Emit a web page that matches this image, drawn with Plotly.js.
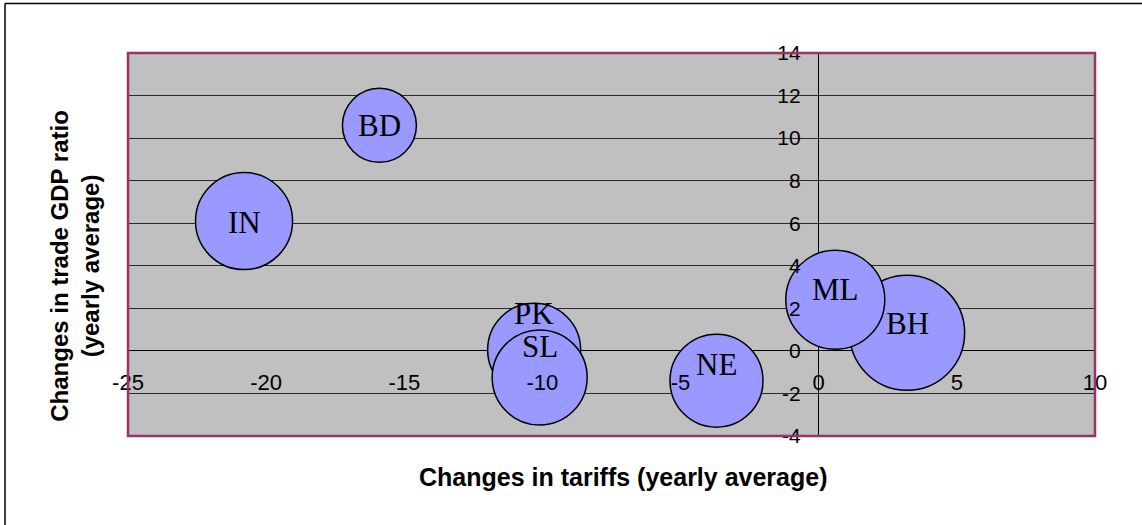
<!DOCTYPE html>
<html>
<head>
<meta charset="utf-8">
<script src="https://cdn.plot.ly/plotly-3.0.1.min.js"></script>
<style>
  html, body { margin: 0; padding: 0; background: #fff; overflow: hidden; }
  #chart { width: 1142px; height: 525px; }
</style>
</head>
<body>
<div id="chart"></div>
<script>
// ---- data ----
const countries      = ['IN', 'BD', 'PK', 'SL', 'NE', 'BH', 'ML'];
const tariffChange   = [-20.8, -15.9, -10.3, -10.1, -3.7, 3.2, 0.6];
const tradeGdpChange = [6.1, 10.6, 0.05, -1.25, -1.4, 0.85, 2.4];
const bubbleSize     = [97, 74, 93, 95, 93, 115, 99];

const xTickVals = [-25, -20, -15, -10, -5, 0, 5, 10];
const yTickVals = [-4, -2, 0, 2, 4, 6, 8, 10, 12, 14];

const xTitle = 'Changes in tariffs (yearly average)';
const yTitle = 'Changes in trade GDP ratio<br>(yearly average)';

// ---- style ----
const labelLift = [-1, 0, 36, 31, 16, 9, 10]; // px the label sits above its bubble centre
const xRange = [-25, 10];
const yRange = [-4, 14];

const trace = {
  type: 'scatter',
  mode: 'markers',
  x: tariffChange,
  y: tradeGdpChange,
  text: countries,
  hoverinfo: 'text',
  marker: {
    size: bubbleSize,
    sizemode: 'diameter',
    sizeref: 1,
    color: '#9999FF',
    opacity: 1,
    line: { color: '#000000', width: 1.5 }
  },
  showlegend: false,
  cliponaxis: false
};

const labelAnnotations = countries.map((c, i) => ({
  x: tariffChange[i], y: tradeGdpChange[i], xref: 'x', yref: 'y',
  text: c, showarrow: false, yshift: labelLift[i],
  xanchor: 'center', yanchor: 'middle',
  font: { family: 'Liberation Serif, Times New Roman, serif', size: 31, color: '#000' }
}));

const titleAnnotations = [
  { xref: 'paper', yref: 'paper', x: 0.512, y: -0.107, text: xTitle, showarrow: false,
    xanchor: 'center', yanchor: 'middle',
    font: { family: 'Liberation Sans, Arial, sans-serif', size: 25, color: '#000', weight: 'bold' } },
  { xref: 'paper', yref: 'paper', x: -0.055, y: 0.444, text: yTitle, showarrow: false,
    textangle: -90, xanchor: 'center', yanchor: 'middle',
    font: { family: 'Liberation Sans, Arial, sans-serif', size: 24, color: '#000', weight: 'bold' } }
];

const xZeroPos = (0 - yRange[0]) / (yRange[1] - yRange[0]);
const yZeroPos = (0 - xRange[0]) / (xRange[1] - xRange[0]);

const frameLeft = (5 - 128) / 967;
const frameTop = 1 + (53 - 3.5) / 383;

const layout = {
  width: 1142, height: 525,
  margin: { l: 128, r: 47, t: 53, b: 89, pad: 0 },
  paper_bgcolor: '#ffffff',
  plot_bgcolor: '#C0C0C0',
  xaxis: {
    range: xRange, tickvals: xTickVals, ticktext: xTickVals.map(String),
    anchor: 'free', position: xZeroPos,
    showgrid: false, showline: false,
    zeroline: true, zerolinecolor: '#000', zerolinewidth: 1,
    ticks: '', ticklabelstandoff: 16,
    tickfont: { family: 'Liberation Sans, Arial, sans-serif', size: 22, color: '#000' },
    layer: 'above traces', fixedrange: true
  },
  yaxis: {
    range: yRange, tickvals: yTickVals, ticktext: yTickVals.map(String),
    anchor: 'free', position: yZeroPos,
    showgrid: true, gridcolor: '#2a2a2a', gridwidth: 1,
    showline: false,
    zeroline: true, zerolinecolor: '#000', zerolinewidth: 1,
    ticks: '', ticklabelstandoff: 18,
    tickfont: { family: 'Liberation Sans, Arial, sans-serif', size: 21, color: '#000' },
    layer: 'above traces', fixedrange: true
  },
  shapes: [
    { type: 'rect', xref: 'paper', yref: 'paper', x0: 0, x1: 1, y0: 0, y1: 1,
      line: { color: '#993366', width: 2.5 }, layer: 'above' },
    { type: 'line', xref: 'paper', yref: 'paper',
      x0: frameLeft, x1: frameLeft, y0: -0.5, y1: frameTop,
      line: { color: '#000', width: 1.5 }, layer: 'below' },
    { type: 'line', xref: 'paper', yref: 'paper',
      x0: frameLeft, x1: 1.2, y0: frameTop, y1: frameTop,
      line: { color: '#000', width: 1.5 }, layer: 'below' }
  ],
  annotations: labelAnnotations.concat(titleAnnotations),
  hovermode: 'closest'
};

Plotly.newPlot('chart', [trace], layout, { displayModeBar: false, staticPlot: true });
</script>
</body>
</html>
